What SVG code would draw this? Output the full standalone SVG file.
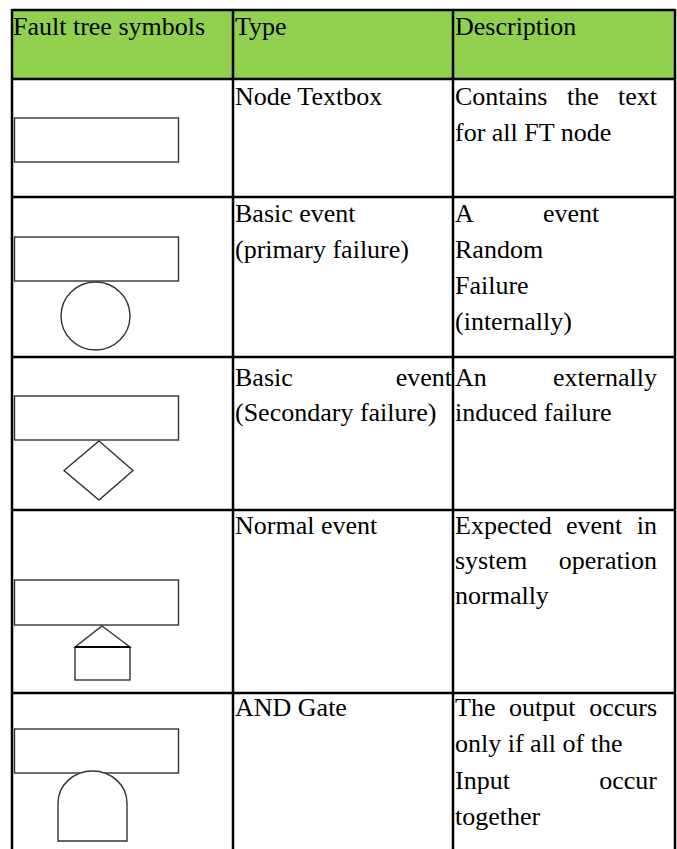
<svg xmlns="http://www.w3.org/2000/svg" width="677" height="849" viewBox="0 0 677 849" font-family="'Liberation Serif', 'Times New Roman', serif">
<style>
text{font-family:"Liberation Serif","Times New Roman",serif;font-size:26px;fill:#000}
.grid{stroke:#000;stroke-width:2.5;fill:none}
.sym{fill:#fff;stroke:#333;stroke-width:1.4}
.end{text-anchor:end}
</style>
<rect width="677" height="849" fill="#fff"/>
<g id="header">
<rect x="12" y="10" width="663" height="69" fill="#92D050"/>
<text x="13" y="35">Fault tree symbols</text>
<text x="235" y="35">Type</text>
<text x="455" y="35">Description</text>
</g>
<g id="grid" class="grid">
<line x1="12" y1="10" x2="675" y2="10"/>
<line x1="12" y1="79" x2="675" y2="79"/>
<line x1="12" y1="197" x2="675" y2="197"/>
<line x1="12" y1="357" x2="675" y2="357"/>
<line x1="12" y1="510" x2="675" y2="510"/>
<line x1="12" y1="693" x2="675" y2="693"/>
<line x1="12" y1="9" x2="12" y2="849"/>
<line x1="233" y1="9" x2="233" y2="849"/>
<line x1="453" y1="9" x2="453" y2="849"/>
<line x1="675" y1="9" x2="675" y2="849"/>
</g>
<g id="row-textbox">
<rect class="sym" x="14.5" y="118" width="164" height="44"/>
<text x="235" y="105">Node Textbox</text>
<text y="105"><tspan x="455">Contains</tspan><tspan x="567">the</tspan><tspan x="657" class="end">text</tspan></text>
<text x="455" y="141">for all FT node</text>
</g>
<g id="row-basic-primary">
<rect class="sym" x="14.5" y="237" width="164" height="44"/>
<ellipse class="sym" cx="95.5" cy="316" rx="34.5" ry="34"/>
<text x="235" y="222">Basic event</text>
<text x="235" y="258">(primary failure)</text>
<text y="222"><tspan x="455">A</tspan><tspan x="543">event</tspan></text>
<text x="455" y="258">Random</text>
<text x="455" y="294">Failure</text>
<text x="455" y="330">(internally)</text>
</g>
<g id="row-basic-secondary">
<rect class="sym" x="14.5" y="396" width="164" height="44"/>
<polygon class="sym" points="99,441 133,470.5 99,500 64,470.5"/>
<text y="386"><tspan x="235">Basic</tspan><tspan x="452" class="end">event</tspan></text>
<text x="235" y="421">(Secondary failure)</text>
<text y="386"><tspan x="455">An</tspan><tspan x="657" class="end">externally</tspan></text>
<text x="455" y="421">induced failure</text>
</g>
<g id="row-normal">
<rect class="sym" x="14.5" y="580" width="164" height="45"/>
<polygon class="sym" points="102,626 130,647 75,647"/>
<rect class="sym" x="75" y="647" width="55" height="33"/>
<line x1="75" y1="647" x2="130" y2="647" stroke="#000" stroke-width="2"/>
<text x="235" y="534">Normal event</text>
<text y="534"><tspan x="455">Expected</tspan><tspan x="566">event</tspan><tspan x="657" class="end">in</tspan></text>
<text y="569"><tspan x="455">system</tspan><tspan x="657" class="end">operation</tspan></text>
<text x="455" y="604">normally</text>
</g>
<g id="row-and">
<rect class="sym" x="14.5" y="729" width="164" height="44"/>
<path class="sym" d="M58,841 L58,803 A34.5,32 0 0 1 127,803 L127,841 Z"/>
<text x="235" y="716">AND Gate</text>
<text y="716"><tspan x="455">The</tspan><tspan x="509">output</tspan><tspan x="657" class="end">occurs</tspan></text>
<text x="455" y="752">only if all of the</text>
<text y="789"><tspan x="455">Input</tspan><tspan x="657" class="end">occur</tspan></text>
<text x="455" y="825">together</text>
</g>
</svg>
